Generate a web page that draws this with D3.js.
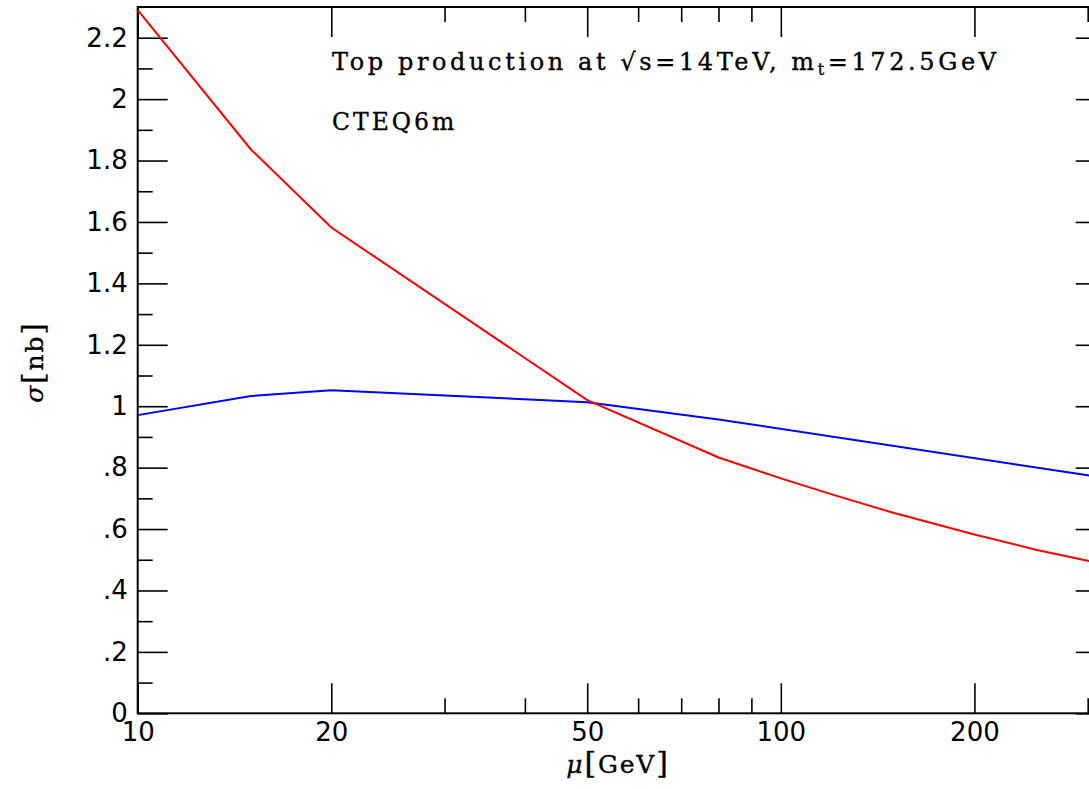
<!DOCTYPE html>
<html>
<head>
<meta charset="utf-8">
<script src="https://cdn.jsdelivr.net/npm/d3@7"></script>
<style>
  html, body { margin: 0; padding: 0; background: #fff; }
  svg { display: block; }
  .tick text { font-family: "DejaVu Sans", sans-serif; font-size: 26px; fill: #000; }
  .lbl { font-family: "DejaVu Serif", serif; fill: #000; stroke: #000; stroke-width: 0.35px; }
</style>
</head>
<body>
<svg id="chart" width="1089" height="789"></svg>
<script>
// Scale μ [GeV] and cross sections σ [nb]
const muLO = [10, 15, 20, 50, 80, 90, 100, 120, 150, 200, 250, 300, 320];
const sigmaLO = [2.29, 1.836, 1.582, 1.02, 0.833, 0.797, 0.765, 0.713, 0.652, 0.582, 0.532, 0.497, 0.486];
const muNLO = [10, 15, 20, 50, 80, 300, 320];
const sigmaNLO = [0.971, 1.033, 1.052, 1.013, 0.957, 0.775, 0.767];

const xMajorTicks = [10, 20, 50, 100, 200];
const xMinorTicks = [30, 40, 60, 70, 80, 90, 300];
const yMajorTicks = [0, 0.2, 0.4, 0.6, 0.8, 1, 1.2, 1.4, 1.6, 1.8, 2, 2.2];
const yMajorLabels = ["0", ".2", ".4", ".6", ".8", "1", "1.2", "1.4", "1.6", "1.8", "2", "2.2"];
const yMinorTicks = [0.1, 0.3, 0.5, 0.7, 0.9, 1.1, 1.3, 1.5, 1.7, 1.9, 2.1];

const xDomain = [10, 320];
const yDomain = [0, 2.3];

const m = { left: 137.7, top: 7, right: 1105.7, bottom: 713.3 };
const W = m.right - m.left, H = m.bottom - m.top;

const svg = d3.select("#chart");
const g = svg.append("g").attr("transform", `translate(${m.left},${m.top})`);

const x = d3.scaleLog().domain(xDomain).range([0, W]);
const y = d3.scaleLinear().domain(yDomain).range([H, 0]);

const MAJ = 30, MIN = 15;
const noDomain = a => a.select(".domain").remove();

// bottom axis: inward ticks with labels
g.append("g").attr("transform", `translate(0,${H})`)
  .call(d3.axisBottom(x).tickValues(xMajorTicks).tickFormat(d3.format("d"))
    .tickSizeInner(-MAJ).tickSizeOuter(0).tickPadding(9.5))
  .call(noDomain);
g.append("g").attr("transform", `translate(0,${H})`)
  .call(d3.axisBottom(x).tickValues(xMinorTicks).tickFormat("").tickSizeInner(-MIN).tickSizeOuter(0))
  .call(noDomain);

// top axis: inward ticks, no labels
g.append("g")
  .call(d3.axisTop(x).tickValues(xMajorTicks).tickFormat("").tickSizeInner(-MAJ).tickSizeOuter(0))
  .call(noDomain);
g.append("g")
  .call(d3.axisTop(x).tickValues(xMinorTicks).tickFormat("").tickSizeInner(-MIN).tickSizeOuter(0))
  .call(noDomain);

// left axis
g.append("g")
  .call(d3.axisLeft(y).tickValues(yMajorTicks).tickFormat((d, i) => yMajorLabels[i])
    .tickSizeInner(-MAJ).tickSizeOuter(0).tickPadding(10))
  .call(noDomain);
g.append("g")
  .call(d3.axisLeft(y).tickValues(yMinorTicks).tickFormat("").tickSizeInner(-MIN).tickSizeOuter(0))
  .call(noDomain);

// right axis
g.append("g").attr("transform", `translate(${W},0)`)
  .call(d3.axisRight(y).tickValues(yMajorTicks).tickFormat("").tickSizeInner(-MAJ).tickSizeOuter(0))
  .call(noDomain);
g.append("g").attr("transform", `translate(${W},0)`)
  .call(d3.axisRight(y).tickValues(yMinorTicks).tickFormat("").tickSizeInner(-MIN).tickSizeOuter(0))
  .call(noDomain);

g.selectAll(".tick line").attr("stroke", "#000").attr("stroke-width", 1.6);

// frame
g.append("rect").attr("x", 0).attr("y", 0).attr("width", W).attr("height", H)
  .attr("fill", "none").attr("stroke", "#000").attr("stroke-width", 2);

// curves
const line = d3.line().x(d => x(d[0])).y(d => y(d[1]));
svg.append("clipPath").attr("id", "plotclip")
  .append("rect").attr("width", W).attr("height", H);
const curves = g.append("g").attr("clip-path", "url(#plotclip)");
curves.append("path").datum(d3.zip(muNLO, sigmaNLO)).attr("d", line)
  .attr("fill", "none").attr("stroke", "#0000ff").attr("stroke-width", 2);
curves.append("path").datum(d3.zip(muLO, sigmaLO)).attr("d", line)
  .attr("fill", "none").attr("stroke", "#ff0000").attr("stroke-width", 2);

// annotations
const t1 = svg.append("text").attr("class", "lbl").attr("x", 332).attr("y", 70)
  .attr("font-size", 24).attr("letter-spacing", 3.6);
t1.append("tspan").text("Top production at √s=14TeV, m");
t1.append("tspan").attr("font-size", 16).attr("dy", 5).text("t");
t1.append("tspan").attr("dy", -5).text("=172.5GeV");

svg.append("text").attr("class", "lbl").attr("x", 332).attr("y", 130)
  .attr("font-size", 23.5).attr("letter-spacing", 3)
  .text("CTEQ6m");

// axis titles
const xl = svg.append("text").attr("class", "lbl").attr("x", 618).attr("y", 773).attr("text-anchor", "middle")
  .attr("font-size", 25).attr("letter-spacing", 1.8);
xl.append("tspan").attr("font-style", "italic").text("μ");
xl.append("tspan").attr("font-size", 30).text("[");
xl.append("tspan").text("GeV");
xl.append("tspan").attr("font-size", 30).text("]");

const yl = svg.append("text").attr("class", "lbl").attr("transform", "translate(43,362) rotate(-90)").attr("text-anchor", "middle")
  .attr("font-size", 25).attr("letter-spacing", 1.8);
yl.append("tspan").attr("font-style", "italic").text("σ");
yl.append("tspan").attr("font-size", 30).text("[");
yl.append("tspan").text("nb");
yl.append("tspan").attr("font-size", 30).text("]");
</script>
</body>
</html>
